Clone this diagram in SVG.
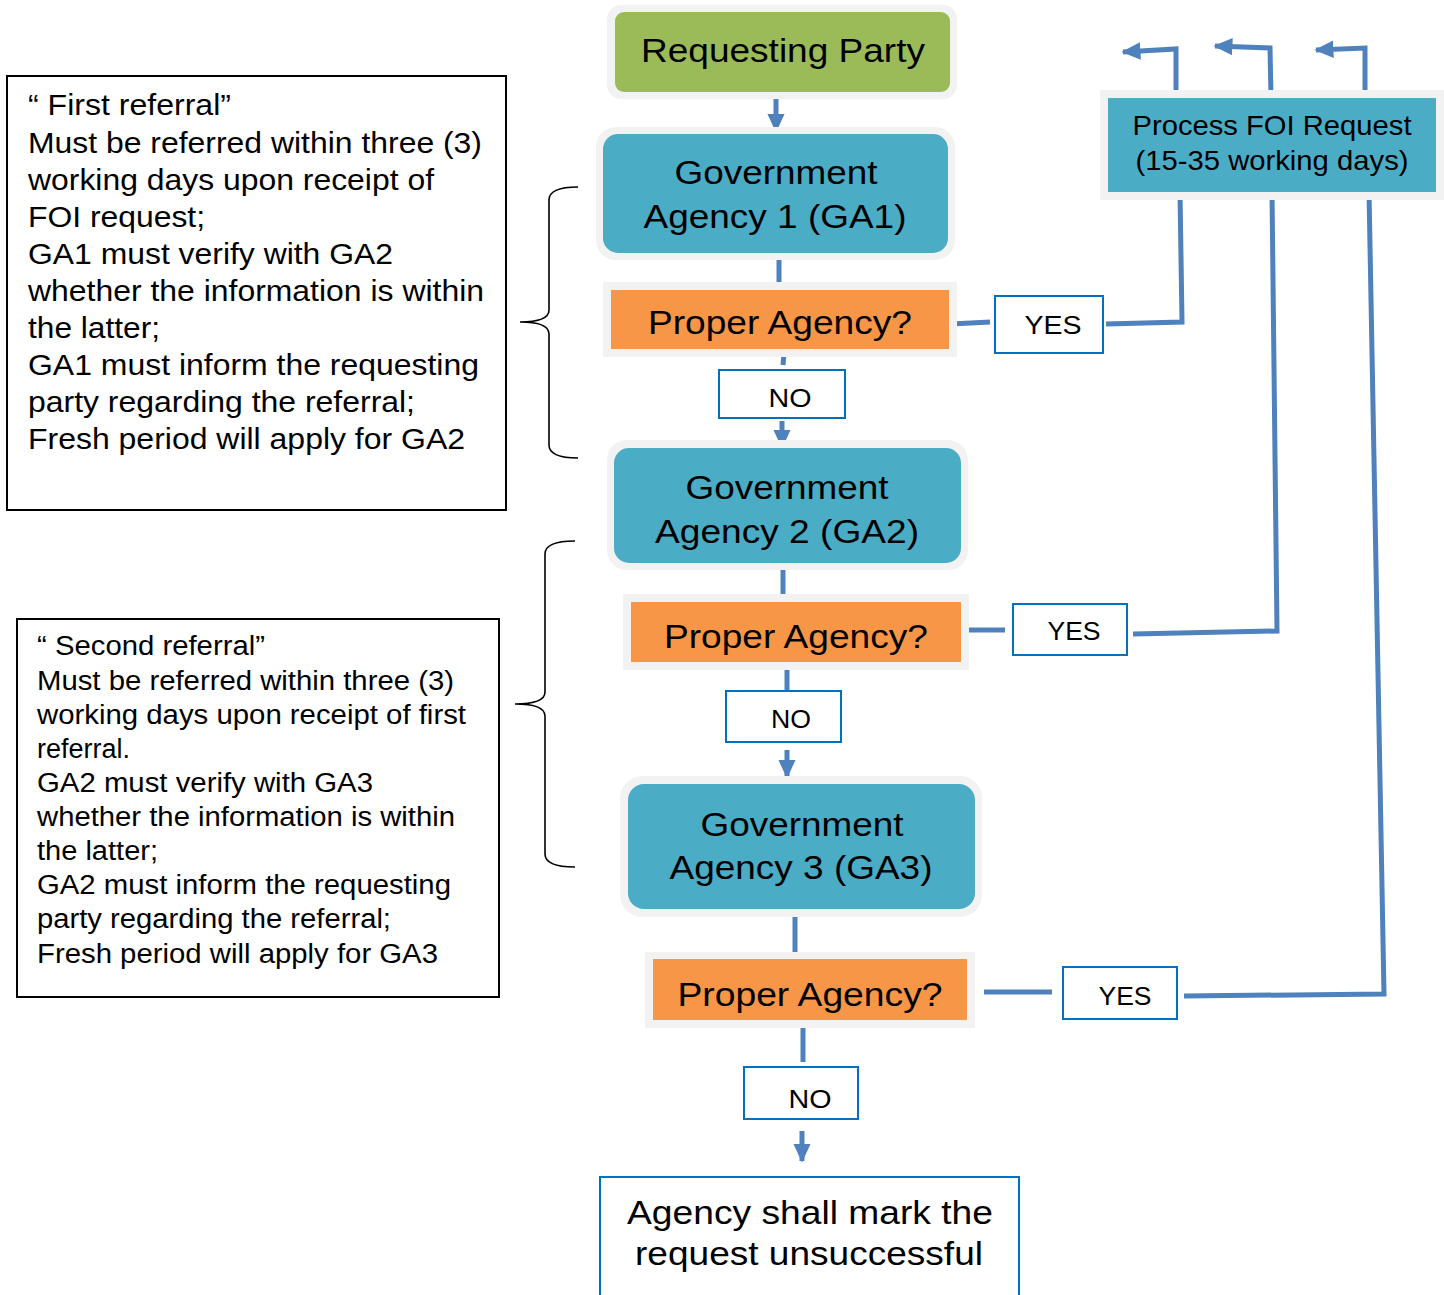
<svg xmlns="http://www.w3.org/2000/svg" width="1444" height="1295" viewBox="0 0 1444 1295">
<defs>
<style>
.halo{fill:#F2F2F2}
.green{fill:#9BBB59}
.teal{fill:#4BACC6}
.orange{fill:#F79646}
.lbl{fill:#FFFFFF;stroke:#0070C0;stroke-width:2}
.note{fill:#FFFFFF;stroke:#000000;stroke-width:2}
.conn{fill:none;stroke:#4F81BD;stroke-width:5;stroke-linejoin:miter}
.brace{fill:none;stroke:#000000;stroke-width:1.6}
text{font-family:"Liberation Sans",Arial,sans-serif;fill:#000000}
.big{font-size:33px;text-anchor:middle}
.mid{font-size:28px;text-anchor:middle}
.yn{font-size:26px;text-anchor:middle}
.n1{font-size:29px}
.n2{font-size:27px}
</style>
<marker id="ah" viewBox="0 0 12 12" refX="11" refY="6" markerWidth="19" markerHeight="19" markerUnits="userSpaceOnUse" orient="auto">
<path d="M0,0.5 L12,6 L0,11.5 z" fill="#4F81BD"/>
</marker>
</defs>

<g id="connectors">
<path class="conn" d="M776,98 L776,131" marker-end="url(#ah)"/>
<path class="conn" d="M779,256 L779,290"/>
<path class="conn" d="M784,354 L783,365"/>
<path class="conn" d="M782,421 L782,447" marker-end="url(#ah)"/>
<path class="conn" d="M951,324 L990,322"/>
<path class="conn" d="M1106,324 L1182,322 L1180,192"/>
<path class="conn" d="M783,563 L783,602"/>
<path class="conn" d="M963,630 L1005,630"/>
<path class="conn" d="M1133,634 L1277,631 L1272,192"/>
<path class="conn" d="M787,662 L787,690"/>
<path class="conn" d="M787,750 L787,777" marker-end="url(#ah)"/>
<path class="conn" d="M795,909 L795,960"/>
<path class="conn" d="M984,992 L1052,992"/>
<path class="conn" d="M1184,996 L1384,994 L1369,192"/>
<path class="conn" d="M803,1018 L803,1062"/>
<path class="conn" d="M802,1131 L802,1161" marker-end="url(#ah)"/>
<path class="conn" d="M1176,97 L1176,49 L1123,52" marker-end="url(#ah)"/>
<path class="conn" d="M1271,97 L1270,48 L1215,46" marker-end="url(#ah)"/>
<path class="conn" d="M1365,97 L1365,48 L1316,50" marker-end="url(#ah)"/>
</g>

<g id="requesting-party">
<rect class="halo" x="607" y="5" width="350" height="94" rx="14"/>
<rect class="green" x="615" y="12" width="335" height="80" rx="9"/>
<text class="big" x="783" y="62" textLength="284" lengthAdjust="spacingAndGlyphs">Requesting Party</text>
</g>

<g id="ga1">
<rect class="halo" x="596" y="127" width="359" height="133" rx="20"/>
<rect class="teal" x="603" y="134" width="345" height="119" rx="15"/>
<text class="big" x="776" y="184" textLength="203" lengthAdjust="spacingAndGlyphs">Government</text>
<text class="big" x="775" y="228" textLength="263" lengthAdjust="spacingAndGlyphs">Agency 1 (GA1)</text>
</g>

<g id="pa1">
<rect class="halo" x="603" y="282" width="354" height="75"/>
<rect class="orange" x="611" y="290" width="338" height="59"/>
<text class="big" x="780" y="334" textLength="264" lengthAdjust="spacingAndGlyphs">Proper Agency?</text>
</g>

<g id="no1">
<rect class="lbl" x="719" y="370" width="126" height="48"/>
<text class="yn" x="790" y="407" textLength="43" lengthAdjust="spacingAndGlyphs">NO</text>
</g>

<g id="yes1">
<rect class="lbl" x="995" y="296" width="108" height="57"/>
<text class="yn" x="1053" y="334" textLength="57" lengthAdjust="spacingAndGlyphs">YES</text>
</g>

<g id="process">
<rect class="halo" x="1100" y="90" width="344" height="110"/>
<rect class="teal" x="1108" y="98" width="328" height="94"/>
<text class="mid" x="1272" y="135" textLength="279" lengthAdjust="spacingAndGlyphs">Process FOI Request</text>
<text class="mid" x="1272" y="170" textLength="273" lengthAdjust="spacingAndGlyphs">(15-35 working days)</text>
</g>

<g id="ga2">
<rect class="halo" x="607" y="440" width="361" height="130" rx="20"/>
<rect class="teal" x="614" y="448" width="347" height="115" rx="15"/>
<text class="big" x="787" y="499" textLength="203" lengthAdjust="spacingAndGlyphs">Government</text>
<text class="big" x="787" y="543" textLength="264" lengthAdjust="spacingAndGlyphs">Agency 2 (GA2)</text>
</g>

<g id="pa2">
<rect class="halo" x="623" y="594" width="346" height="76"/>
<rect class="orange" x="631" y="602" width="330" height="60"/>
<text class="big" x="796" y="648" textLength="264" lengthAdjust="spacingAndGlyphs">Proper Agency?</text>
</g>

<g id="yes2">
<rect class="lbl" x="1013" y="604" width="114" height="51"/>
<text class="yn" x="1074" y="640" textLength="53" lengthAdjust="spacingAndGlyphs">YES</text>
</g>

<g id="no2">
<rect class="lbl" x="726" y="691" width="115" height="51"/>
<text class="yn" x="791" y="728" textLength="40" lengthAdjust="spacingAndGlyphs">NO</text>
</g>

<g id="ga3">
<rect class="halo" x="620" y="776" width="362" height="141" rx="22"/>
<rect class="teal" x="628" y="784" width="347" height="125" rx="16"/>
<text class="big" x="802" y="836" textLength="203" lengthAdjust="spacingAndGlyphs">Government</text>
<text class="big" x="801" y="879" textLength="263" lengthAdjust="spacingAndGlyphs">Agency 3 (GA3)</text>
</g>

<g id="pa3">
<rect class="halo" x="645" y="952" width="330" height="76"/>
<rect class="orange" x="653" y="959" width="314" height="61"/>
<text class="big" x="810" y="1006" textLength="265" lengthAdjust="spacingAndGlyphs">Proper Agency?</text>
</g>

<g id="yes3">
<rect class="lbl" x="1063" y="967" width="114" height="52"/>
<text class="yn" x="1125" y="1005" textLength="53" lengthAdjust="spacingAndGlyphs">YES</text>
</g>

<g id="no3">
<rect class="lbl" x="744" y="1067" width="114" height="52"/>
<text class="yn" x="810" y="1108" textLength="43" lengthAdjust="spacingAndGlyphs">NO</text>
</g>

<g id="unsuccessful">
<rect class="lbl" x="600" y="1177" width="419" height="125"/>
<text class="big" x="810" y="1224" textLength="366" lengthAdjust="spacingAndGlyphs">Agency shall mark the</text>
<text class="big" x="809" y="1265" textLength="348" lengthAdjust="spacingAndGlyphs">request unsuccessful</text>
</g>

<g id="note1">
<rect class="note" x="7" y="76" width="499" height="434"/>
<text class="n1" x="28" y="115" textLength="203" lengthAdjust="spacingAndGlyphs">“ First referral”</text>
<text class="n1" x="28" y="153" textLength="454" lengthAdjust="spacingAndGlyphs">Must be referred within three (3)</text>
<text class="n1" x="28" y="190" textLength="406" lengthAdjust="spacingAndGlyphs">working days upon receipt of</text>
<text class="n1" x="28" y="227" textLength="177" lengthAdjust="spacingAndGlyphs">FOI request;</text>
<text class="n1" x="28" y="264" textLength="365" lengthAdjust="spacingAndGlyphs">GA1 must verify with GA2</text>
<text class="n1" x="28" y="301" textLength="456" lengthAdjust="spacingAndGlyphs">whether the information is within</text>
<text class="n1" x="28" y="338" textLength="132" lengthAdjust="spacingAndGlyphs">the latter;</text>
<text class="n1" x="28" y="375" textLength="451" lengthAdjust="spacingAndGlyphs">GA1 must inform the requesting</text>
<text class="n1" x="28" y="412" textLength="387" lengthAdjust="spacingAndGlyphs">party regarding the referral;</text>
<text class="n1" x="28" y="449" textLength="437" lengthAdjust="spacingAndGlyphs">Fresh period will apply for GA2</text>
</g>

<g id="brace1">
<path class="brace" d="M578,187 Q549,187 549,200 L549,310 Q549,322 520,322 Q549,322 549,334 L549,445 Q549,458 578,458"/>
</g>

<g id="note2">
<rect class="note" x="17" y="619" width="482" height="378"/>
<text class="n2" x="37" y="655" textLength="228" lengthAdjust="spacingAndGlyphs">“ Second referral”</text>
<text class="n2" x="37" y="690" textLength="417" lengthAdjust="spacingAndGlyphs">Must be referred within three (3)</text>
<text class="n2" x="37" y="724" textLength="429" lengthAdjust="spacingAndGlyphs">working days upon receipt of first</text>
<text class="n2" x="37" y="758" textLength="93" lengthAdjust="spacingAndGlyphs">referral.</text>
<text class="n2" x="37" y="792" textLength="336" lengthAdjust="spacingAndGlyphs">GA2 must verify with GA3</text>
<text class="n2" x="37" y="826" textLength="418" lengthAdjust="spacingAndGlyphs">whether the information is within</text>
<text class="n2" x="37" y="860" textLength="121" lengthAdjust="spacingAndGlyphs">the latter;</text>
<text class="n2" x="37" y="894" textLength="414" lengthAdjust="spacingAndGlyphs">GA2 must inform the requesting</text>
<text class="n2" x="37" y="928" textLength="354" lengthAdjust="spacingAndGlyphs">party regarding the referral;</text>
<text class="n2" x="37" y="963" textLength="401" lengthAdjust="spacingAndGlyphs">Fresh period will apply for GA3</text>
</g>

<g id="brace2">
<path class="brace" d="M575,541 Q545,541 545,554 L545,692 Q545,704 515,704 Q545,704 545,716 L545,854 Q545,867 575,867"/>
</g>
</svg>
